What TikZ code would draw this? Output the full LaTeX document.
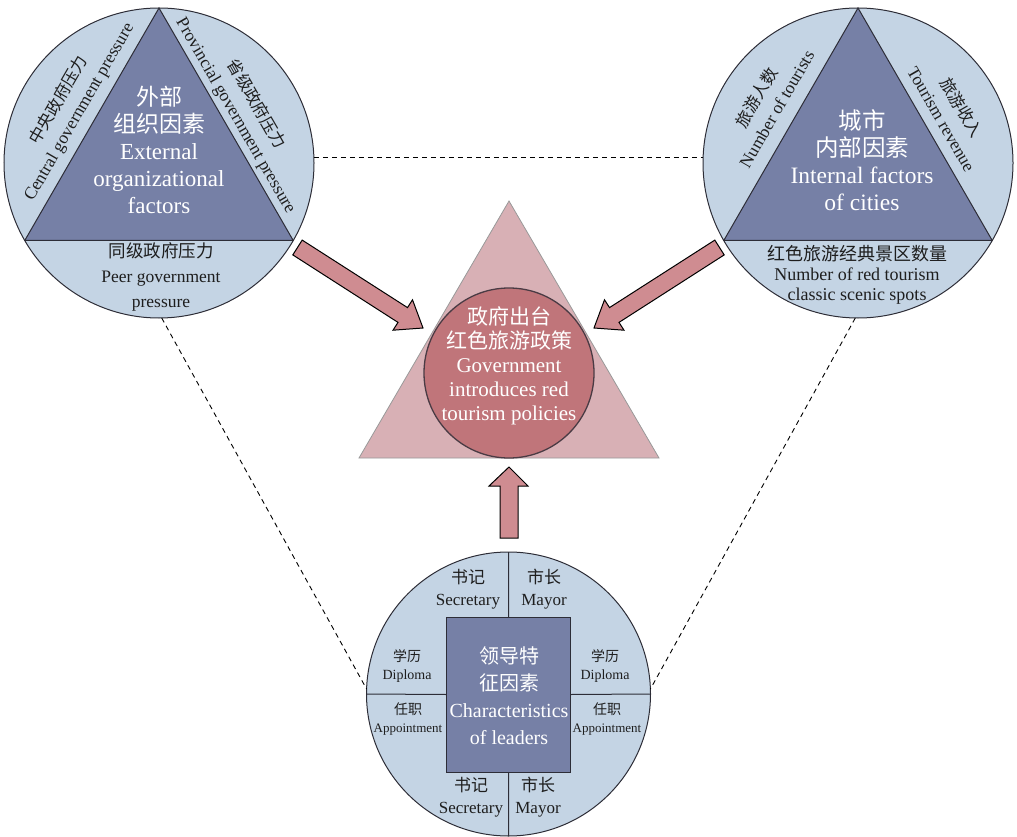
\documentclass[tikz,border=0pt]{standalone}
\usepackage{fontspec}
\setmainfont{Liberation Serif}
\newfontfamily\cjk{Noto Sans CJK SC}
\newcommand\zh[1]{{\cjk #1}}
\newcommand\fs[2]{\fontsize{#1}{#2}\selectfont}
\definecolor{lightB}{RGB}{196,212,228}
\definecolor{darkB}{RGB}{118,128,166}
\definecolor{pinkT}{RGB}{216,176,181}
\definecolor{redC}{RGB}{192,117,122}
\definecolor{arrowF}{RGB}{207,140,145}
\definecolor{lineC}{RGB}{45,45,55}
\definecolor{txtD}{RGB}{30,30,30}
\tikzset{
  ring/.style={circle, draw=lineC, line width=1pt, fill=lightB, inner sep=0pt, outer sep=0pt},
  tri/.style={draw=lineC, line width=1pt, fill=darkB, line join=miter},
  wtext/.style={text=white, align=center, inner sep=0pt},
  dtext/.style={text=txtD, align=center, inner sep=0pt},
  blockarrow/.style={draw=black, line width=1pt, fill=arrowF, line join=miter},
  link/.style={draw=black, line width=0.9pt, dash pattern=on 5pt off 4pt}
}
\begin{document}
\begin{tikzpicture}[x=1pt,y=-1pt]
\useasboundingbox (0,0) rectangle (1017,837);
% ---- top-left circle
\node[ring, minimum size=310pt] (tl) at (159,163) {};
\draw[tri] (tl.90) -- (tl.210) -- (tl.330) -- cycle;
\node[wtext, font=\fs{23}{27}] (tlm) at (159,150) {\zh{外部}\\\zh{组织因素}\\External\\organizational\\factors};
\node[dtext, font=\fs{17.5}{23}, rotate=60] (tll) at (69,106) {\zh{\fs{16.5}{23}中央政府压力}\\Central government pressure};
\node[dtext, font=\fs{17.5}{23}, rotate=-60] (tlr) at (246,110) {\zh{\fs{16.5}{23}省级政府压力}\\Provincial government pressure};
\node[dtext, font=\fs{17.5}{25}] (tlb) at (161,277) {\zh{同级政府压力}\\Peer government\\pressure};
% ---- top-right circle
\node[ring, minimum size=310pt] (tr) at (858,163) {};
\draw[tri] (tr.90) -- (tr.210) -- (tr.330) -- cycle;
\node[wtext, font=\fs{23.5}{27}] (trm) at (862,160) {\zh{城市}\\\zh{内部因素}\\Internal factors\\of cities};
\node[dtext, font=\fs{17.5}{23}, rotate=60] (trl) at (766,103) {\zh{\fs{16.5}{23}旅游人数}\\Number of tourists};
\node[dtext, font=\fs{17.5}{23}, rotate=-60] (trr) at (952,113) {\zh{\fs{16.5}{23}旅游收入}\\Tourism revenue};
\node[dtext, font=\fs{18}{20}] (trb) at (857,275) {\zh{红色旅游经典景区数量}\\Number of red tourism\\classic scenic spots};
% ---- centre
\coordinate (ca) at (509,201);
\coordinate (cl) at (359,458);
\coordinate (cr) at (659,458);
\draw[draw=gray!80, line width=0.8pt, fill=pinkT] (ca) -- (cl) -- (cr) -- cycle;
\node[circle, draw=lineC!80!redC, line width=1.3pt, fill=redC, inner sep=0pt, minimum size=170pt] (cc) at (509,373) {};
\node[wtext, font=\fs{21}{24}] (ccm) at (509,366) {\zh{政府出台}\\\zh{红色旅游政策}\\Government\\introduces red\\tourism policies};
% ---- bottom circle
\node[ring, minimum size=284pt] (bc) at (508.5,694) {};
\node[draw=lineC, line width=1pt, fill=darkB, minimum width=124pt, minimum height=155pt, inner sep=0pt, outer sep=0pt] (rc) at (508.5,694.5) {};
\draw[draw=lineC, line width=1pt] (bc.90) -- (rc.north) (rc.south) -- (bc.-90) (bc.180) -- (rc.west) (rc.east) -- (bc.0);
\node[wtext, font=\fs{20}{27}] (rcm) at (509,696) {\zh{领导特}\\\zh{征因素}\\Characteristics\\of leaders};
\node[dtext, font=\fs{17}{22}] (s1) at (468,589) {\zh{书记}\\Secretary};
\node[dtext, font=\fs{17}{22}] (m1) at (544,589) {\zh{市长}\\Mayor};
\node[dtext, font=\fs{14}{18}] (d1) at (407,666) {\zh{学历}\\Diploma};
\node[dtext, font=\fs{14}{18}] (d2) at (605,666) {\zh{学历}\\Diploma};
\node[dtext, font=\fs{14}{18}] (a1) at (408,719) {\zh{任职}\\{\fs{13}{18}Appointment}};
\node[dtext, font=\fs{14}{18}] (a2) at (607,719) {\zh{任职}\\{\fs{13}{18}Appointment}};
\node[dtext, font=\fs{17}{22}] (s2) at (471,797) {\zh{书记}\\Secretary};
\node[dtext, font=\fs{17}{22}] (m2) at (538,797) {\zh{市长}\\Mayor};
% ---- dashed links
\draw[link] (tl.2) -- (tr.178);
\draw[link] (tl.-89) -- (bc.178);
\draw[link] (tr.-91) -- (bc.2);
% ---- block arrows
\draw[blockarrow] (292.8,254.9) -- (398.0,322.4) -- (393.0,330.2) -- (423,328) -- (412.5,299.8) -- (407.5,307.6) -- (302.2,240.1) -- cycle;
\draw[blockarrow] (724.2,254.9) -- (619.0,322.4) -- (624.0,330.2) -- (594,328) -- (604.5,299.8) -- (609.5,307.6) -- (714.8,240.1) -- cycle;
\draw[blockarrow] (500,538) -- (500,486) -- (489,486) -- (509,467) -- (528,486) -- (518,486) -- (518,538) -- cycle;
\end{tikzpicture}
\end{document}
